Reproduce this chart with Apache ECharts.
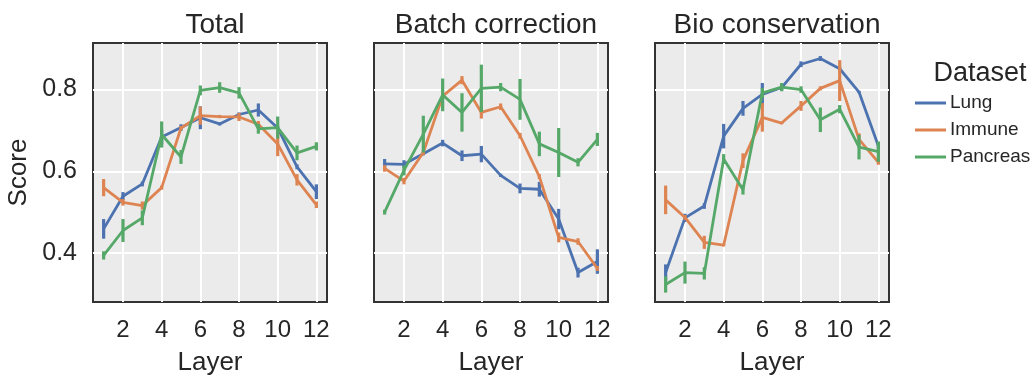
<!DOCTYPE html>
<html>
<head>
<meta charset="utf-8">
<script src="https://cdn.jsdelivr.net/npm/echarts@6/dist/echarts.min.js"></script>
<style>
  html, body { margin: 0; padding: 0; background: #fff; }
  #chart { width: 1032px; height: 381px; }
</style>
</head>
<body>
<div id="chart"></div>
<script>
const layers = [1, 2, 3, 4, 5, 6, 7, 8, 9, 10, 11, 12]
const panels = ['Total', 'Batch correction', 'Bio conservation']
const datasets = ['Lung', 'Immune', 'Pancreas']
const colors = ['#4C72B0', '#DD8452', '#55A868']
const xTicks = [2, 4, 6, 8, 10, 12]
const yTicks = [0.4, 0.6, 0.8]

// Total
const totalLung = [0.459, 0.539, 0.569, 0.684, 0.707, 0.731, 0.716, 0.739, 0.750, 0.706, 0.611, 0.550]
const totalLungErr = [0.024, 0.010, 0.006, 0.018, 0.008, 0.028, 0.004, 0.005, 0.016, 0.006, 0.006, 0.018]
const totalImmune = [0.560, 0.524, 0.516, 0.560, 0.706, 0.736, 0.734, 0.733, 0.715, 0.667, 0.579, 0.518]
const totalImmuneErr = [0.021, 0.008, 0.010, 0.005, 0.005, 0.022, 0.004, 0.010, 0.008, 0.030, 0.014, 0.008]
const totalPancreas = [0.394, 0.455, 0.486, 0.690, 0.635, 0.798, 0.805, 0.792, 0.704, 0.707, 0.645, 0.661]
const totalPancreasErr = [0.010, 0.028, 0.018, 0.032, 0.017, 0.012, 0.013, 0.014, 0.012, 0.027, 0.018, 0.010]

// Batch correction
const batchLung = [0.618, 0.617, 0.643, 0.669, 0.638, 0.642, 0.590, 0.558, 0.556, 0.483, 0.352, 0.379]
const batchLungErr = [0.012, 0.010, 0.004, 0.008, 0.013, 0.020, 0.004, 0.012, 0.018, 0.025, 0.012, 0.030]
const batchImmune = [0.607, 0.576, 0.646, 0.784, 0.823, 0.744, 0.758, 0.687, 0.587, 0.438, 0.428, 0.362]
const batchImmuneErr = [0.008, 0.008, 0.006, 0.006, 0.010, 0.015, 0.008, 0.007, 0.006, 0.012, 0.008, 0.006]
const batchPancreas = [0.500, 0.602, 0.691, 0.787, 0.744, 0.803, 0.806, 0.776, 0.667, 0.646, 0.622, 0.678]
const batchPancreasErr = [0.006, 0.012, 0.045, 0.040, 0.047, 0.058, 0.010, 0.050, 0.030, 0.060, 0.010, 0.016]

// Bio conservation
const bioLung = [0.352, 0.486, 0.515, 0.686, 0.754, 0.788, 0.805, 0.862, 0.876, 0.851, 0.794, 0.662]
const bioLungErr = [0.020, 0.010, 0.007, 0.030, 0.018, 0.028, 0.008, 0.007, 0.006, 0.005, 0.003, 0.008]
const bioImmune = [0.530, 0.487, 0.426, 0.419, 0.626, 0.732, 0.718, 0.760, 0.803, 0.822, 0.678, 0.622]
const bioImmuneErr = [0.035, 0.006, 0.016, 0.003, 0.018, 0.035, 0.003, 0.012, 0.005, 0.050, 0.015, 0.006]
const bioPancreas = [0.323, 0.352, 0.350, 0.630, 0.555, 0.792, 0.806, 0.800, 0.726, 0.752, 0.659, 0.648]
const bioPancreasErr = [0.020, 0.027, 0.015, 0.012, 0.012, 0.012, 0.010, 0.008, 0.030, 0.010, 0.030, 0.025]

const panelData = [
    [[totalLung, totalLungErr], [totalImmune, totalImmuneErr], [totalPancreas, totalPancreasErr]],
    [[batchLung, batchLungErr], [batchImmune, batchImmuneErr], [batchPancreas, batchPancreasErr]],
    [[bioLung, bioLungErr], [bioImmune, bioImmuneErr], [bioPancreas, bioPancreasErr]]
]

const FONT = 'Liberation Sans'
const TEXT = '#262626'
const gridLefts = [93, 374, 655]
const gridW = 234

// vertical error bar for each layer
const errRender = (params, api) => {
    const x = api.value(0)
    const p1 = api.coord([x, api.value(1)])
    const p2 = api.coord([x, api.value(2)])
    return {
        type: 'line',
        shape: { x1: p1[0], y1: p1[1], x2: p2[0], y2: p2[1] },
        style: { stroke: api.visual('color'), lineWidth: 3.2 }
    }
}

const grids = [], xAxes = [], yAxes = [], titles = [], series = []

panels.forEach((name, p) => {
    grids.push({
        left: gridLefts[p], top: 43, width: gridW, height: 265,
        show: true, backgroundColor: '#EBEBEB', borderColor: '#333', borderWidth: 2
    })
    titles.push({
        text: name, left: gridLefts[p] + gridW / 2, top: 6, textAlign: 'center',
        textStyle: { fontFamily: FONT, fontSize: 28, fontWeight: 'normal', color: TEXT }
    })
    xAxes.push({
        type: 'value', gridIndex: p, min: 0.45, max: 12.55,
        name: 'Layer', nameLocation: 'middle', nameGap: 48,
        nameTextStyle: { fontFamily: FONT, fontSize: 26, color: TEXT },
        axisLine: { show: false },
        axisTick: { show: false, customValues: xTicks },
        axisLabel: { customValues: xTicks, fontFamily: FONT, fontSize: 24, color: TEXT, margin: 16 },
        splitLine: { show: true, lineStyle: { color: '#fff', width: 2 } }
    })
    yAxes.push({
        type: 'value', gridIndex: p, min: 0.28, max: 0.914,
        name: p === 0 ? 'Score' : '', nameLocation: 'middle', nameGap: 61,
        nameTextStyle: { fontFamily: FONT, fontSize: 26, color: TEXT },
        axisLine: { show: false },
        axisTick: { show: false, customValues: yTicks },
        axisLabel: { show: p === 0, customValues: yTicks, fontFamily: FONT, fontSize: 25, color: TEXT, margin: 16,
            formatter: v => v.toFixed(1) },
        splitLine: { show: true, lineStyle: { color: '#fff', width: 2 } }
    })
    datasets.forEach((ds, d) => {
        const [mean, err] = panelData[p][d]
        series.push({
            name: ds, type: 'line', xAxisIndex: p, yAxisIndex: p,
            data: layers.map((l, i) => [l, mean[i]]),
            symbol: 'none', lineStyle: { width: 2.8, color: colors[d] },
            itemStyle: { color: colors[d] }, z: 2 + d, silent: true
        })
        series.push({
            name: ds, type: 'custom', xAxisIndex: p, yAxisIndex: p,
            renderItem: errRender,
            data: layers.map((l, i) => [l, mean[i] - err[i], mean[i] + err[i]]),
            itemStyle: { color: colors[d] }, z: 2 + d, silent: true
        })
    })
})

titles.push({
    text: 'Dataset', left: 975, top: 55, textAlign: 'center',
    textStyle: { fontFamily: FONT, fontSize: 27, fontWeight: 'normal', color: TEXT }
})

const myChart = echarts.init(document.getElementById('chart'))
myChart.setOption({
    animation: false,
    title: titles,
    grid: grids,
    xAxis: xAxes,
    yAxis: yAxes,
    legend: {
        data: datasets, orient: 'vertical', left: 915, top: 93, padding: 0,
        icon: 'rect', itemWidth: 31, itemHeight: 3, itemGap: 7,
        textStyle: { fontFamily: FONT, fontSize: 19, color: TEXT, lineHeight: 20, padding: [0, 0, 0, -1] },
        selectedMode: false
    },
    series: series
})
window.addEventListener('resize', () => myChart.resize())
</script>
</body>
</html>
